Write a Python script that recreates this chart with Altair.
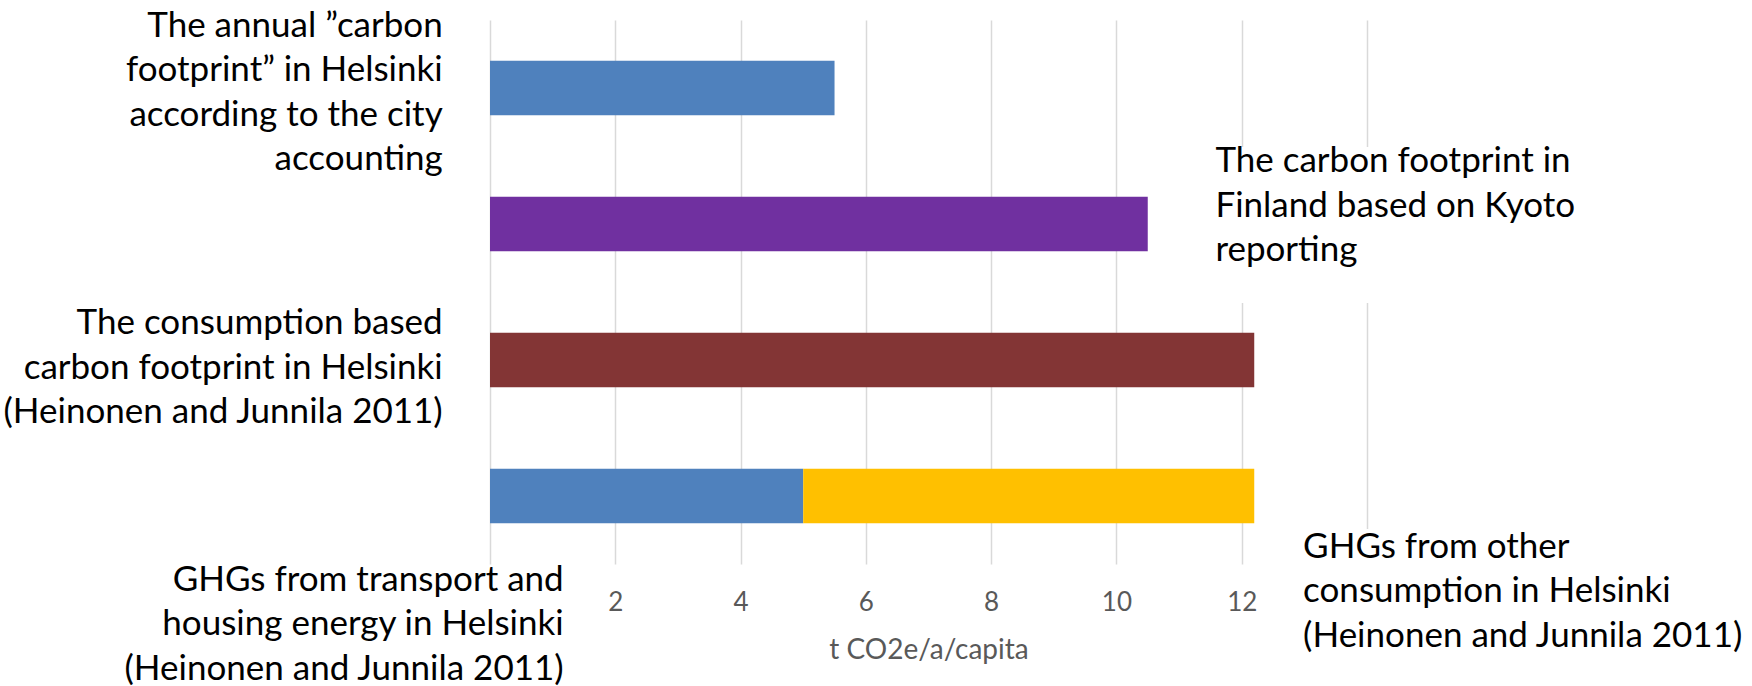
import altair as alt
import pandas as pd

# ---------------- data ----------------
categories = [
    "City accounting (Helsinki)",
    "Kyoto reporting (Finland)",
    "Consumption based (Helsinki)",
    "Consumption split (Helsinki)",
]
series = [
    "Annual carbon footprint, city accounting",
    "Carbon footprint in Finland, Kyoto reporting",
    "Consumption based carbon footprint",
    "GHGs from transport and housing energy",
    "GHGs from other consumption",
]
series_category = [categories[0], categories[1], categories[2], categories[3], categories[3]]
series_values = [5.5, 10.5, 12.2, 5.0, 7.2]
series_colors = ["#4F81BD", "#7030A0", "#833535", "#4F81BD", "#FFC000"]

tick_values = [0, 2, 4, 6, 8, 10, 12, 14]
axis_title = "t CO2e/a/capita"

label_city = "The annual \u201dcarbon\nfootprint\u201d in Helsinki\naccording to the city\naccounting"
label_kyoto = "The carbon footprint in\nFinland based on Kyoto\nreporting"
label_consumption = "The consumption based\ncarbon footprint in Helsinki\n(Heinonen and Junnila 2011)"
label_transport = "GHGs from transport and\nhousing energy in Helsinki\n(Heinonen and Junnila 2011)"
label_other = "GHGs from other\nconsumption in Helsinki\n(Heinonen and Junnila 2011)"

# ---------------- tables ----------------
bars = pd.DataFrame({
    "category": series_category,
    "series": series,
    "value": series_values,
    "stack_order": list(range(len(series))),
})

FONT = "Lato"
LABEL_SIZE = 35
LINE_H = 44.5

x_scale = alt.Scale(domain=[0, 14], nice=False, zero=True)
y_scale = alt.Scale(paddingInner=0.598, paddingOuter=0.299)
y_enc = alt.Y("category:N", sort=categories, scale=y_scale, axis=None)

bar_layer = alt.Chart(bars).mark_bar(strokeWidth=0).encode(
    x=alt.X(
        "value:Q",
        stack="zero",
        scale=x_scale,
        axis=alt.Axis(
            values=tick_values,
            format="d",
            title=axis_title,
            labelExpr="datum.value == 0 || datum.value == 14 ? '' : datum.label",
            grid=True,
            gridColor="#D9D9D9",
            gridWidth=1.5,
            domain=False,
            ticks=False,
            labelFont=FONT,
            labelFontSize=26,
            labelColor="#595959",
            labelBaseline="middle",
            labelPadding=38,
            titleFont=FONT,
            titleFontSize=28,
            titleFontWeight="normal",
            titleColor="#595959",
            titleBaseline="middle",
            titleY=86,
        ),
    ),
    y=y_enc,
    color=alt.Color("series:N", scale=alt.Scale(domain=series, range=series_colors), legend=None),
    order=alt.Order("stack_order:Q"),
)

# white boxes behind the right / bottom annotation labels (they hide the gridlines there)
box_df = pd.DataFrame({"k": [0]})
def white_box(x0, x1, y0, y1):
    return alt.Chart(box_df).mark_rect(color="white").encode(
        x=alt.datum(x0, scale=x_scale), x2=alt.datum(x1),
        y=alt.value(y0), y2=alt.value(y1),
    )

boxes = [
    white_box(11.4, 14.6, 127, 283),
    white_box(12.8, 14.6, 509, 700),
    white_box(-1.5, 1.35, 545, 700),
]

def label(cat, text, xval, align, dy):
    df = pd.DataFrame({"category": [cat], "text": [text]})
    return alt.Chart(df).mark_text(
        align=align, baseline="middle", font=FONT, fontSize=LABEL_SIZE,
        lineBreak="\n", lineHeight=LINE_H, color="#000000", dy=dy,
    ).encode(
        x=alt.datum(xval, scale=x_scale),
        y=y_enc,
        text="text:N",
    )

labels = [
    label(categories[0], label_city, -0.755, "right", -62.5),
    label(categories[1], label_kyoto, 11.58, "left", -62.8),
    label(categories[2], label_consumption, -0.755, "right", -37),
    label(categories[3], label_transport, 1.176, "right", 83.5),
    label(categories[3], label_other, 12.98, "left", 50.5),
]

chart = alt.layer(*boxes, bar_layer, *labels).properties(
    width=877,
    height=544,
    autosize=alt.AutoSizeParams(type="none"),
    padding={"left": 490, "top": 20, "right": 385, "bottom": 122},
    background="white",
).configure_view(stroke=None)

chart.save("out.html", embed_options={"renderer": "svg", "actions": False})
